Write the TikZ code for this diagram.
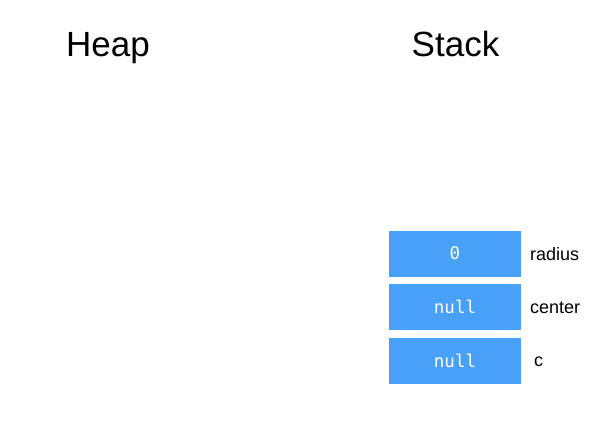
\documentclass[tikz,border=0pt]{standalone}
\usepackage{fontspec}
\setmainfont{Liberation Sans}
\newfontfamily\monofont{DejaVu Sans Mono}
\definecolor{cellblue}{RGB}{73,160,247}
\begin{document}
\begin{tikzpicture}[x=1pt,y=-1pt,
  title/.style={inner sep=0pt,anchor=base,font=\fontsize{35}{40}\selectfont},
  cell/.style={fill=cellblue,draw=none,minimum width=132pt,minimum height=46pt,inner sep=0pt,text=white,font=\monofont\fontsize{17.5}{19}\selectfont},
  varname/.style={inner sep=0pt,anchor=west,font=\fontsize{18}{20}\selectfont}]
\useasboundingbox[fill=white] (0,0) rectangle (600,445);
\node[title] (heap) at (108,56) {Heap};
\node[title] (stack) at (455.5,56) {Stack};
\node[cell] (radius) at (455,253.5) {0};
\node[cell] (center) at (455,307) {null};
\node[cell] (c) at (455,360.5) {null};
\node[varname] (lradius) at (530,254.5) {radius};
\node[varname] (lcenter) at (530,307.5) {center};
\node[varname] (lc) at (534,361.5) {c};
\end{tikzpicture}
\end{document}
